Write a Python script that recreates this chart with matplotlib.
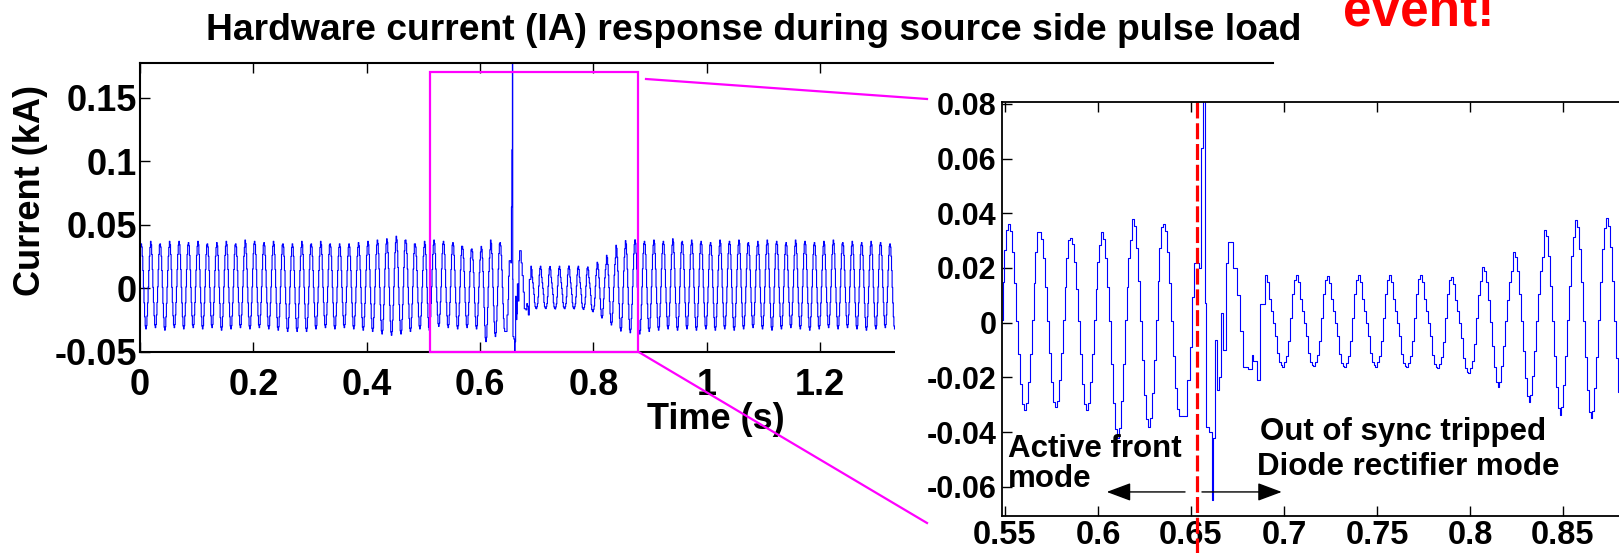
import numpy as np
import matplotlib
matplotlib.use("Agg")
import matplotlib.pyplot as plt
from matplotlib.patches import Rectangle
from matplotlib.lines import Line2D

plt.rcParams['font.family'] = ['Liberation Sans', 'DejaVu Sans']
plt.rcParams['font.weight'] = 'bold'

# ---- data ----
# one 60 Hz cycle, 16 samples, starting at the positive peak
# (positive levels relative to the cycle peak, negative to the cycle trough)
afe_shape = [1.0, 0.93, 0.72, 0.4, 0.02, -0.36, -0.7, -0.93,
             -1.0, -0.92, -0.68, -0.36, 0.03, 0.4, 0.72, 0.92]
diode_shape = [1.0, 0.85, 0.5, 0.25, 0.0, -0.3, -0.7, -0.9,
               -0.97, -1.0, -0.9, -0.75, -0.42, 0.1, 0.6, 0.9]

# active front end mode, peaks at 0.0018 + n/60 s
pre_peak = [0.035, 0.037, 0.035, 0.037, 0.037, 0.036, 0.037, 0.035, 0.036, 0.037,
            0.035, 0.038, 0.037, 0.036, 0.037, 0.035, 0.035, 0.037, 0.035, 0.037,
            0.035, 0.035, 0.035, 0.036, 0.037, 0.038, 0.039, 0.041, 0.038, 0.035,
            0.037, 0.038, 0.037, 0.036, 0.033, 0.031, 0.033, 0.038, 0.036]
pre_trough = [-0.032, -0.031, -0.033, -0.031, -0.032, -0.031, -0.032, -0.031, -0.033, -0.032,
              -0.031, -0.032, -0.031, -0.032, -0.033, -0.034, -0.034, -0.034, -0.032, -0.031,
              -0.032, -0.031, -0.032, -0.033, -0.034, -0.036, -0.037, -0.036, -0.034, -0.032,
              -0.033, -0.030, -0.031, -0.032, -0.031, -0.032, -0.042, -0.038, -0.034]

# trip transient
trans_t = [0.6477, 0.6495, 0.6504, 0.6516, 0.6545, 0.6555, 0.6562, 0.6572, 0.6578, 0.6582,
           0.6598, 0.6611, 0.6618, 0.6629, 0.6638, 0.6652, 0.6660, 0.6674, 0.6688, 0.6699,
           0.6728, 0.6745, 0.6764, 0.6782, 0.6809, 0.6827, 0.6836, 0.6853, 0.6871]
trans_v = [-0.0210, -0.0088, 0.0095, 0.0217, 0.0200, 0.064, 0.109, 0.200, 0.0071, -0.038,
           -0.040, -0.0648, -0.042, -0.0063, -0.0246, -0.020, 0.0035, -0.010, 0.0218, 0.0296,
           0.020, 0.010, -0.003, -0.0161, -0.017, -0.012, -0.014, -0.021, 0.007]

# after the trip, peaks at 0.6898 + m/60 s (first 7 cycles in diode mode)
post_peak = [0.0174, 0.0174, 0.0172, 0.0174, 0.0176, 0.0174, 0.0168, 0.0205, 0.026, 0.0339,
             0.0375, 0.0382, 0.037, 0.038, 0.037, 0.039, 0.037, 0.038, 0.037, 0.036,
             0.038, 0.037, 0.038, 0.036, 0.037, 0.038, 0.037, 0.036, 0.038, 0.037,
             0.036, 0.037, 0.038, 0.036, 0.037, 0.036, 0.037, 0.036, 0.035]
post_trough = [-0.0161, -0.0160, -0.0163, -0.0161, -0.0162, -0.0167, -0.0185, -0.0234, -0.0289, -0.0337,
               -0.0350, -0.036, -0.034, -0.033, -0.032, -0.033, -0.032, -0.033, -0.032, -0.033,
               -0.032, -0.033, -0.032, -0.031, -0.032, -0.033, -0.032, -0.031, -0.032, -0.033,
               -0.032, -0.031, -0.032, -0.031, -0.032, -0.033, -0.032, -0.031, -0.032]
n_diode = 7

main_xticks = [0, 0.2, 0.4, 0.6, 0.8, 1.0, 1.2]
main_xlabels = ['0', '0.2', '0.4', '0.6', '0.8', '1', '1.2']
main_yticks = [-0.05, 0, 0.05, 0.1, 0.15]
main_ylabels = ['-0.05', '0', '0.05', '0.1', '0.15']
zoom_xticks = [0.55, 0.6, 0.65, 0.7, 0.75, 0.8, 0.85]
zoom_xlabels = ['0.55', '0.6', '0.65', '0.7', '0.75', '0.8', '0.85']
zoom_yticks = [-0.06, -0.04, -0.02, 0, 0.02, 0.04, 0.06, 0.08]
zoom_ylabels = ['-0.06', '-0.04', '-0.02', '0', '0.02', '0.04', '0.06', '0.08']

zoom_box = (0.5117, 0.8794, -0.05, 0.1703)
trip_time = 0.6531


def cycle(shape, pk, tr, nk=16):
    return [s * pk if s >= 0 else s * abs(tr) for s in shape[:nk]]


t, v = [], []
for n in range(len(pre_peak)):
    nk = 9 if n == len(pre_peak) - 1 else 16
    t += [0.0018 + n / 60 + k / 960 for k in range(nk)]
    v += cycle(afe_shape, pre_peak[n], pre_trough[n], nk)
t += trans_t
v += trans_v
for m in range(len(post_peak)):
    shp = diode_shape if m < n_diode else afe_shape
    t += [0.6898 + m / 60 + k / 960 for k in range(16)]
    v += cycle(shp, post_peak[m], post_trough[m])
t = np.array(t)
v = np.array(v)
keep = t <= 1.332
t, v = t[keep], v[keep]

# ---- figure ----
W, H = 1619, 553


def fx(px):
    return px / W


def fy(py):
    return 1 - py / H


fig = plt.figure(figsize=(W / 100, H / 100), dpi=100)

ax = fig.add_axes([fx(140), fy(351.8), 1133.3 / W, (351.8 - 63) / H])
ax.set_zorder(1)
ax.plot(t, v, color='blue', lw=0.8, drawstyle='steps-post')
ax.set_xlim(0, 2.0)
ax.set_ylim(-0.05, 0.1774)
ax.set_xticks(main_xticks)
ax.set_xticklabels(main_xlabels)
ax.set_yticks(main_yticks)
ax.set_yticklabels(main_ylabels)
ax.tick_params(direction='in', length=7, width=1, top=True, labelsize=26)
ax.tick_params(axis='x', pad=12)
ax.tick_params(axis='y', pad=2)
for sp in ax.spines.values():
    sp.set_linewidth(1.5)
ax.spines['right'].set_visible(False)
x0, x1, y0, y1 = zoom_box
ax.add_patch(Rectangle((x0, y0), x1 - x0, y1 - y0, fill=False, edgecolor='magenta',
                       lw=1.6, clip_on=False, zorder=5))

# white area behind the zoomed view
fig.add_artist(Rectangle((fx(895), 0), 1 - fx(895), fy(66), transform=fig.transFigure,
                         facecolor='white', edgecolor='none', zorder=2))

ax2 = fig.add_axes([fx(1002), fy(516), 654 / W, 414 / H])
ax2.set_zorder(3)
ax2.plot(t, v, color='blue', lw=0.8, drawstyle='steps-post')
ax2.plot([trip_time, trip_time], [0.0807, -0.09], color='red', lw=2.3,
         dashes=(5, 1.5), clip_on=False)
ax2.set_xlim(0.5484, 0.9)
ax2.set_ylim(-0.0707, 0.0807)
ax2.set_xticks(zoom_xticks)
ax2.set_xticklabels(zoom_xlabels)
ax2.set_yticks(zoom_yticks)
ax2.set_yticklabels(zoom_ylabels)
ax2.tick_params(direction='in', length=7, width=1, top=True, labelsize=22)
ax2.tick_params(axis='x', pad=3, labelsize=23.5)
ax2.tick_params(axis='y', pad=4)
for sp in ax2.spines.values():
    sp.set_linewidth(1.3)

ax2.text(0.5516, -0.0490, 'Active front', fontsize=22.5, fontweight='bold', va='baseline')
ax2.text(0.5516, -0.0600, 'mode', fontsize=22.5, fontweight='bold', va='baseline')
ax2.text(0.6871, -0.0429, 'Out of sync tripped', fontsize=22.5, fontweight='bold', va='baseline')
ax2.text(0.6855, -0.0557, 'Diode rectifier mode', fontsize=22.5, fontweight='bold', va='baseline')
arrow = dict(arrowstyle='-|>,head_length=0.75,head_width=0.28', color='black', lw=1,
             mutation_scale=20, shrinkA=0, shrinkB=0)
ax2.annotate('', xy=(0.6047, -0.0619), xytext=(0.6468, -0.0619), arrowprops=arrow)
ax2.annotate('', xy=(0.6988, -0.0619), xytext=(0.6559, -0.0619), arrowprops=arrow)

# connector lines from the box to the zoomed view
fig.add_artist(Line2D([fx(646), fx(927)], [fy(79), fy(99)], transform=fig.transFigure,
                      color='magenta', lw=1.6, zorder=4))
fig.add_artist(Line2D([fx(638.3), fx(927)], [fy(351.8), fy(523)], transform=fig.transFigure,
                      color='magenta', lw=1.6, zorder=4))

fig.text(fx(754), fy(40), 'Hardware current (IA) response during source side pulse load',
         ha='center', va='baseline', fontsize=26.8, fontweight='bold')
fig.text(fx(31), fy(191), 'Current (kA)', rotation=90, ha='center', va='center',
         fontsize=26, fontweight='bold')
fig.text(fx(716), fy(429), 'Time (s)', ha='center', va='baseline', fontsize=26,
         fontweight='bold')
fig.text(fx(1343), fy(25), 'event!', ha='left', va='baseline', fontsize=37,
         fontweight='bold', color='red')

fig.savefig('out.png', dpi=100)
